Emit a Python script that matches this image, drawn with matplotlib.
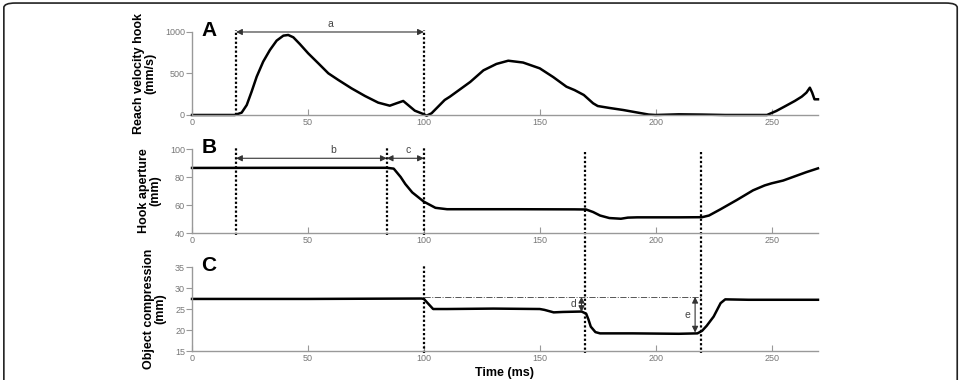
# three stacked traces: reach velocity, hook aperture, object compression
import matplotlib
matplotlib.use('Agg')
import matplotlib.pyplot as plt
from matplotlib.patches import FancyBboxPatch

plt.rcParams['font.family'] = ['Liberation Sans', 'DejaVu Sans']

# data
vel_t = [0, 10, 18.5, 21.4, 23.6, 25.7, 27.9, 30.7, 33.6, 36.5, 39.4, 41.5, 43.7, 46.5, 50.1,
         54.5, 58.8, 63.1, 68.8, 74.6, 80.3, 85.3, 88.2, 91.1, 93.2, 96.1, 99, 101.2, 103.3,
         109, 111.2, 120, 125.7, 131.3, 136.4, 142.8, 150, 155.8, 161.5, 165, 169, 173, 175,
         180, 186, 192, 197, 200, 210, 220, 230, 240, 248, 252, 256, 260, 263, 265, 266.5,
         267.5, 268.5, 270]
vel_v = [0, 0, 0, 28, 120, 281, 462, 643, 783, 896, 956, 964, 936, 855, 743,
         622, 502, 422, 321, 229, 149, 112, 141, 169, 120, 52, 20, -8, 20,
         181, 220, 398, 538, 615, 654, 632, 562, 457, 341, 300, 241, 141, 108,
         85, 60, 30, 5, 0, 8, 5, 0, 0, 0, 48, 108, 169, 221, 269, 329,
         269, 189, 189]

ap_t = [0, 50, 84, 87, 90, 92, 95, 100, 105, 110, 140, 165, 170, 173, 176, 180, 185, 188, 192,
        200, 210, 220, 223, 228, 235, 242, 247, 250, 255, 260, 265, 270]
ap_v = [86.5, 86.6, 86.6, 86, 80, 75, 69, 62.4, 58, 57, 57, 56.9, 56.8, 55, 52.5, 50.7, 50.2, 51, 51.2,
        51.2, 51.2, 51.3, 52.5, 57, 63.6, 70.5, 74, 75.5, 77.5, 80.5, 83.5, 86.2]

comp_t = [0, 50, 99, 100, 102, 104, 110, 130, 150, 152, 156, 160, 168, 170, 171, 172, 174, 176,
          190, 210, 218, 220, 222, 225, 228, 230, 240, 270]
comp_v = [27.4, 27.4, 27.5, 27.4, 26.2, 25.0, 25.0, 25.1, 25.0, 24.8, 24.2, 24.3, 24.4, 23.9, 22.5, 20.8, 19.5, 19.2,
          19.2, 19.1, 19.2, 19.8, 21.0, 23.2, 26.4, 27.3, 27.2, 27.2]

xticks = [0, 50, 100, 150, 200, 250]
ref_level = 27.9   # dash-dot reference line in C

fig = plt.figure(figsize=(9.63, 3.8), dpi=100)

# rounded frame around the figure
frame = FancyBboxPatch((0.004, -0.1), 0.99, 1.092, boxstyle='round,pad=0,rounding_size=0.012',
                       transform=fig.transFigure, fill=False, ec='#222222', lw=1.2)
fig.patches.append(frame)

gray = '#999999'
tick_gray = '#777777'

def style(ax, ylim, yticks, ylabel, letter):
    ax.set_xlim(0, 270)
    ax.set_ylim(*ylim)
    ax.set_yticks(yticks)
    ax.set_xticks(xticks)
    ax.patch.set_alpha(0)
    for s in ['top', 'right']:
        ax.spines[s].set_visible(False)
    for s in ['left', 'bottom']:
        ax.spines[s].set_color(gray)
        ax.spines[s].set_linewidth(1.0)
    ax.tick_params(axis='x', direction='in', length=4, color=gray, labelcolor=tick_gray,
                   labelsize=6.5, pad=2)
    ax.tick_params(axis='y', direction='out', length=4, color=gray, labelcolor=tick_gray,
                   labelsize=6.5, pad=1)
    ax.set_ylabel(ylabel, fontsize=9, fontweight='bold', labelpad=6, linespacing=1.0)
    ax.text(0.015, 1.13, letter, transform=ax.transAxes, fontsize=15, fontweight='bold',
            va='top', ha='left')

axA = fig.add_axes([0.1994, 0.6974, 0.650, 0.2184])
axB = fig.add_axes([0.1994, 0.3868, 0.650, 0.221])
axC = fig.add_axes([0.1994, 0.0763, 0.650, 0.221])

style(axA, (0, 1000), [0, 500, 1000], 'Reach velocity hook\n(mm/s)', 'A')
style(axB, (40, 100), [40, 60, 80, 100], 'Hook aperture\n(mm)', 'B')
style(axC, (15, 35), [15, 20, 25, 30, 35], 'Object compression\n(mm)', 'C')
axC.set_xlabel('Time (ms)', fontsize=9, fontweight='bold', labelpad=3)

axA.plot(vel_t, vel_v, color='black', lw=1.8, clip_on=False)
axB.plot(ap_t, ap_v, color='black', lw=1.8, clip_on=False)
axC.plot(comp_t, comp_v, color='black', lw=1.8, clip_on=False)

dot = dict(color='black', lw=1.6, linestyle=(0, (1, 1)), clip_on=False)

# A: dotted markers and arrow a
for xv in [19, 100]:
    axA.plot([xv, xv], [0, 1020], **dot)
arrow = dict(arrowstyle='<|-|>', color='#333333', lw=0.8, mutation_scale=9, shrinkA=0, shrinkB=0)
axA.annotate('', xy=(19, 1000), xytext=(100, 1000), arrowprops=arrow, annotation_clip=False)
axA.text(59.5, 1040, 'a', ha='center', va='bottom', fontsize=7.5, color='#444444')

# B: dotted markers and arrows b, c
for xv in [19, 84, 100]:
    axB.plot([xv, xv], [38.5, 101], **dot)
axB.annotate('', xy=(19, 93.4), xytext=(84, 93.4), arrowprops=arrow, annotation_clip=False)
axB.annotate('', xy=(84, 93.4), xytext=(100, 93.4), arrowprops=arrow, annotation_clip=False)
axB.text(61, 95.8, 'b', ha='center', va='bottom', fontsize=7.5, color='#444444')
axB.text(93, 95.8, 'c', ha='center', va='bottom', fontsize=7.5, color='#444444')

# lines at 170 and 220 run from B down through C: find the B-value of C's bottom
bottom_px = axC.transData.transform((0, 14.6))
bottom_b = axB.transData.inverted().transform(bottom_px)[1]
for xv in [169.5, 219.5]:
    axB.plot([xv, xv], [98, bottom_b], **dot)

# C: dotted at 100, dash-dot reference, arrows d, e
axC.plot([100, 100], [14.6, 35.5], **dot)
axC.plot([100, 220], [ref_level, ref_level], color='#555555', lw=0.7, linestyle='-.')
axC.annotate('', xy=(168, ref_level), xytext=(168, 24.3), arrowprops=arrow, annotation_clip=False)
axC.annotate('', xy=(217, ref_level), xytext=(217, 19.4), arrowprops=arrow, annotation_clip=False)
axC.text(164.5, 26.1, 'd', ha='center', va='center', fontsize=7.5, color='#444444')
axC.text(213.5, 23.6, 'e', ha='center', va='center', fontsize=7.5, color='#444444')

fig.savefig('out.png', dpi=100)
